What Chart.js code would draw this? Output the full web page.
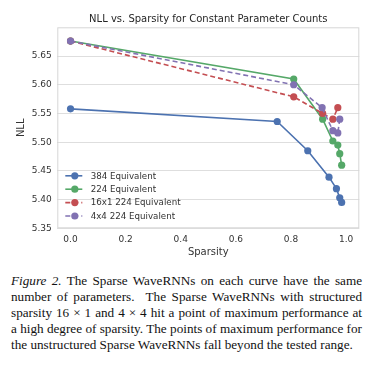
<!DOCTYPE html>
<html>
<head>
<meta charset="utf-8">
<script src="https://cdn.jsdelivr.net/npm/chart.js@4"></script>
<style>
  html, body { margin: 0; padding: 0; background: #ffffff; }
  #wrap { position: relative; width: 384px; height: 262px; }
  .cap { margin: 11px 0 0 11px; width: 351px; font-family: "Liberation Serif", "Times New Roman", serif; font-size: 13.2px; line-height: 16px; color: #111; }
  .cap div { text-align: justify; text-align-last: justify; white-space: nowrap; }
  .cap div.last { text-align-last: left; }
</style>
</head>
<body>
<div id="wrap"><canvas id="c" width="384" height="262"></canvas></div>
<div class="cap">
  <div><i>Figure 2.</i> The Sparse WaveRNNs on each curve have the same</div>
  <div>number of parameters. &nbsp;The Sparse WaveRNNs with structured</div>
  <div>sparsity 16 × 1 and 4 × 4 hit a point of maximum performance at</div>
  <div>a high degree of sparsity. The points of maximum performance for</div>
  <div class="last">the unstructured Sparse WaveRNNs fall beyond the tested range.</div>
</div>
<script>
// ---- data ----
const sparsity384 = [0.0, 0.75, 0.861, 0.938, 0.965, 0.977, 0.984];
const nll384      = [5.558, 5.536, 5.485, 5.439, 5.419, 5.403, 5.395];
const sparsity224 = [0.0, 0.81, 0.915, 0.952, 0.970, 0.977, 0.984];
const nll224      = [5.676, 5.610, 5.540, 5.502, 5.495, 5.480, 5.460];
const sparsity16x1 = [0.0, 0.81, 0.915, 0.952, 0.970];
const nll16x1      = [5.676, 5.579, 5.550, 5.540, 5.560];
const sparsity4x4 = [0.0, 0.81, 0.913, 0.952, 0.970, 0.977];
const nll4x4      = [5.676, 5.600, 5.560, 5.520, 5.516, 5.540];
const seriesNames = ["384 Equivalent", "224 Equivalent", "16x1 224 Equivalent", "4x4 224 Equivalent"];
const xTicks = [0.0, 0.2, 0.4, 0.6, 0.8, 1.0];
const yTicks = [5.35, 5.40, 5.45, 5.50, 5.55, 5.60, 5.65];

const FONT = "'DejaVu Sans', sans-serif";
const TXT = '#333333';

function pts(xs, ys) { return xs.map((x, i) => ({ x: x, y: ys[i] })); }
function ds(label, xs, ys, color, dash, order) {
  return {
    label: label, data: pts(xs, ys), showLine: true,
    borderColor: color, backgroundColor: color,
    pointBackgroundColor: color, pointBorderColor: color,
    borderWidth: 1.6, pointRadius: 3.6, pointBorderWidth: 0,
    borderDash: dash, order: order, tension: 0
  };
}

const framePlugin = {
  id: 'frame',
  beforeDatasetsDraw(chart) {
    const a = chart.chartArea, ctx = chart.ctx;
    ctx.save();
    ctx.strokeStyle = '#d6d6d6';
    ctx.lineWidth = 1;
    ctx.strokeRect(a.left + 0.5, a.top + 0.5, a.right - a.left - 1, a.bottom - a.top - 1);
    ctx.restore();
  }
};

const legendPlugin = {
  id: 'innerLegend',
  afterDraw(chart) {
    const a = chart.chartArea, ctx = chart.ctx;
    const dsets = chart.data.datasets;
    ctx.save();
    ctx.font = '8.7px ' + FONT;
    ctx.textBaseline = 'middle';
    ctx.textAlign = 'left';
    dsets.forEach((d, i) => {
      const y = a.bottom - 52.5 + i * 13.4;
      const x0 = a.left + 8;
      ctx.strokeStyle = d.borderColor;
      ctx.lineWidth = d.borderWidth;
      ctx.setLineDash(d.borderDash || []);
      ctx.beginPath(); ctx.moveTo(x0, y); ctx.lineTo(x0 + 17, y); ctx.stroke();
      ctx.setLineDash([]);
      ctx.fillStyle = d.borderColor;
      ctx.beginPath(); ctx.arc(x0 + 9.5, y, d.pointRadius, 0, Math.PI * 2); ctx.fill();
      ctx.fillStyle = TXT;
      ctx.fillText(d.label, a.left + 33.4, y + 0.5);
    });
    ctx.restore();
  }
};

new Chart(document.getElementById('c'), {
  type: 'scatter',
  data: {
    datasets: [
      ds(seriesNames[0], sparsity384, nll384, '#4C72B0', [], 4),
      ds(seriesNames[1], sparsity224, nll224, '#55A868', [], 3),
      ds(seriesNames[2], sparsity16x1, nll16x1, '#C44E52', [5, 3], 2),
      ds(seriesNames[3], sparsity4x4, nll4x4, '#8172B2', [5, 3], 1)
    ]
  },
  plugins: [framePlugin, legendPlugin],
  options: {
    responsive: false,
    animation: false,
    layout: { padding: { left: 0, right: 24.7, top: 0, bottom: 0 } },
    plugins: {
      legend: { display: false },
      tooltip: { enabled: false },
      title: {
        display: true, fullSize: false,
        text: 'NLL vs. Sparsity for Constant Parameter Counts',
        color: '#262626',
        font: { family: FONT, size: 10, weight: 'normal', lineHeight: 1.2 },
        padding: { top: 13, bottom: 2.3 }
      }
    },
    scales: {
      x: {
        type: 'linear', min: -0.048, max: 1.048,
        afterBuildTicks: s => { s.ticks = xTicks.map(v => ({ value: v })); },
        afterFit: s => { s.height = 33.7; },
        grid: { display: false, drawTicks: false },
        border: { display: false },
        ticks: { padding: 5.6, color: TXT, font: { family: FONT, size: 9 }, callback: v => Number(v).toFixed(1) },
        title: { display: true, text: 'Sparsity', color: TXT, font: { family: FONT, size: 10, lineHeight: 1.2 }, padding: { top: 0, bottom: 4 } }
      },
      y: {
        type: 'linear', min: 5.35, max: 5.70,
        afterBuildTicks: s => { s.ticks = yTicks.map(v => ({ value: v })); },
        afterFit: s => { s.width = 57.3; },
        grid: { display: true, drawTicks: false, color: '#dedede', lineWidth: 1 },
        border: { display: false },
        ticks: { padding: 5.6, color: TXT, font: { family: FONT, size: 9 }, callback: v => Number(v).toFixed(2) },
        title: { display: true, text: 'NLL', color: TXT, font: { family: FONT, size: 10, lineHeight: 1.2 }, padding: { top: 15.7, bottom: 0 } }
      }
    }
  }
});
</script>
</body>
</html>
